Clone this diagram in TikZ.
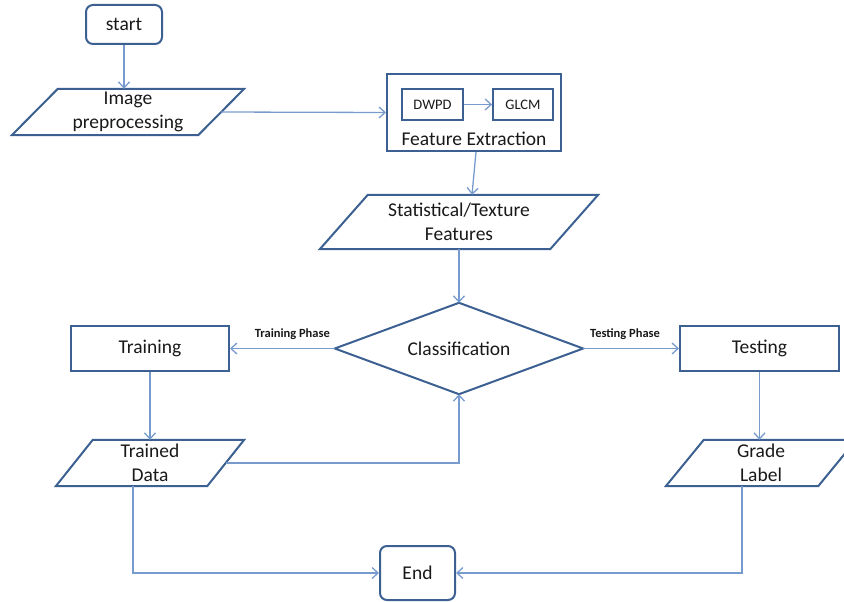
\documentclass[tikz,border=0pt]{standalone}
\usepackage{fontspec}
\setmainfont{Carlito}
\usetikzlibrary{arrows.meta}
\definecolor{bord}{RGB}{60,96,145}
\definecolor{conn}{RGB}{120,155,206}
\definecolor{txt}{RGB}{25,25,25}
\tikzset{
  box/.style={draw=bord, line width=2pt, inner sep=0pt, text=txt, font=\fontsize{19.5}{24}\selectfont, align=center},
  rbox/.style={box, rounded corners=7pt},
  ibox/.style={box, font=\fontsize{14.5}{17}\selectfont, line width=1.8pt},
  hid/.style={inner sep=0pt, text=txt, font=\fontsize{19.5}{24}\selectfont, align=center},
  pshape/.style={draw=bord, line width=2pt, line join=miter},
  conn/.style={draw=conn, line width=1.3pt, -{Straight Barb[length=6pt,width=11pt,line width=1.3pt]}},
  phase/.style={font=\fontsize{12.5}{14}\bfseries\selectfont, text=txt, inner sep=0pt}
}
\newcommand{\parashape}[2]{%
  \draw[pshape] ([xshift=#2]#1.north west) -- ([xshift=#2]#1.north east) -- ([xshift=-#2]#1.south east) -- ([xshift=-#2]#1.south west) -- cycle;}
\begin{document}
\begin{tikzpicture}[x=1pt,y=-1pt]
\useasboundingbox (0,0) rectangle (844,602);
\clip (0,0) rectangle (844,602);
% nodes
\node[rbox, minimum width=76pt, minimum height=39pt] (start) at (124,24.5) {start};
\node[hid, minimum width=186pt, minimum height=46pt] (img) at (128,112) {Image\\preprocessing};
\parashape{img}{23pt}
\node[box, minimum width=174pt, minimum height=77pt] (fe) at (474,112.5) {};
\node[hid] (fetext) at (474,139) {Feature Extraction};
\node[ibox, minimum width=61pt, minimum height=31pt] (dwpd) at (432.5,104.5) {DWPD};
\node[ibox, minimum width=60pt, minimum height=31pt] (glcm) at (523,104.5) {GLCM};
\node[hid, minimum width=230pt, minimum height=54pt] (stat) at (459,222) {Statistical/Texture\\Features};
\parashape{stat}{24pt}
\node[hid, minimum width=248pt, minimum height=91pt] (cls) at (459,348.5) {Classification};
\draw[pshape] (cls.north) -- (cls.east) -- (cls.south) -- (cls.west) -- cycle;
\node[box, minimum width=158pt, minimum height=45pt] (train) at (150,348.5) {Training};
\node[box, minimum width=159pt, minimum height=45pt] (test) at (759.5,348.5) {Testing};
\node[hid, minimum width=151pt, minimum height=46pt] (trained) at (150,463) {Trained\\Data};
\parashape{trained}{18.5pt}
\node[hid, minimum width=152pt, minimum height=46pt] (grade) at (761,463) {Grade\\Label};
\parashape{grade}{19pt}
\node[rbox, minimum width=75pt, minimum height=54pt] (end) at (417.5,573) {End};
% connectors
\draw[conn] (start.south) -- (start.south |- img.north);
\draw[conn] (img.east) -- (fe.west);
\draw[conn] (dwpd.east) -- (glcm.west);
\draw[conn] ([xshift=2pt]fe.south) -- ([xshift=13pt]stat.north);
\draw[conn] (stat.south) -- (cls.north);
\draw[conn] (cls.west) -- node[phase, above=8pt, xshift=10pt] (tp) {Training Phase} (train.east);
\draw[conn] (cls.east) -- node[phase, above=8pt, xshift=-6pt] (sp) {Testing Phase} (test.west);
\draw[conn] (train.south) -- (trained.north);
\draw[conn] (trained.east) -- (cls.south |- trained.east) -- (cls.south);
\draw[conn] ([xshift=-17pt]trained.south) |- (end.west);
\draw[conn] (test.south) -- (test.south |- grade.north);
\draw[conn] ([xshift=-19pt]grade.south) |- (end.east);
\end{tikzpicture}
\end{document}
